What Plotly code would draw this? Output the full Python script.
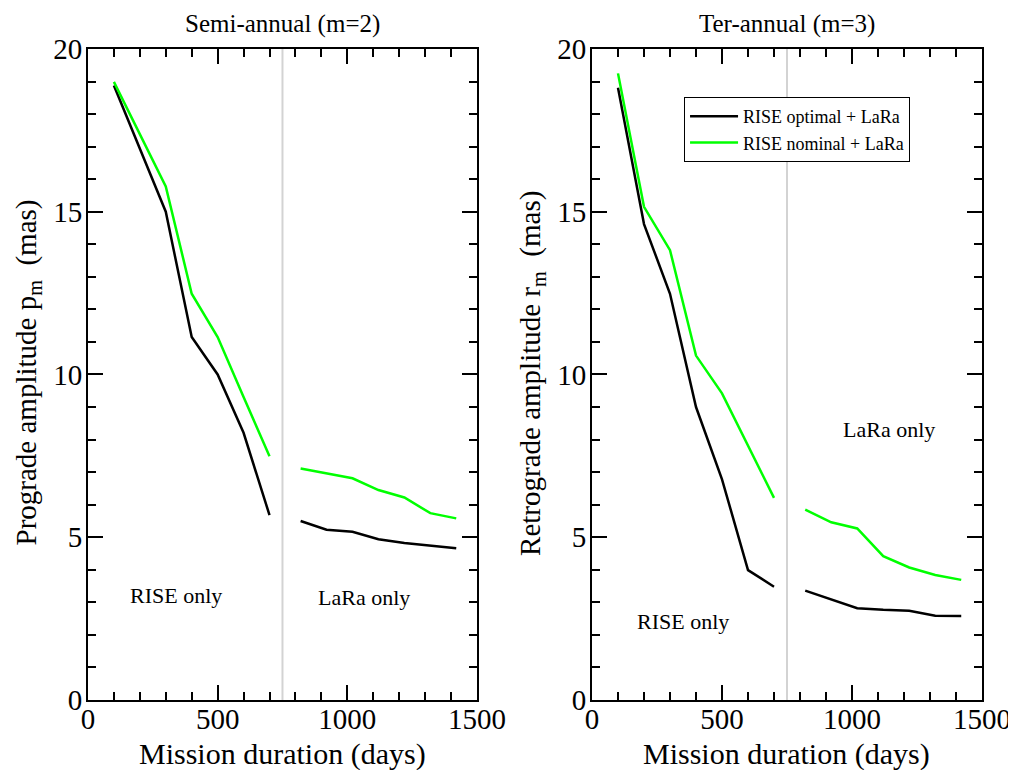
import plotly.graph_objects as go

# Durée de mission (jours)
DIAS_RISE = [100, 200, 300, 400, 500, 600, 700]
DIAS_LARA = [820, 920, 1020, 1120, 1220, 1320, 1420]

# Semi-annual (m=2), prograde amplitude (mas)
SEMI_OPT_RISE = [18.88, 16.95, 15.0, 11.15, 10.0, 8.21, 5.68]
SEMI_OPT_LARA = [5.50, 5.23, 5.17, 4.94, 4.82, 4.75, 4.66]
SEMI_NOM_RISE = [18.99, 17.4, 15.78, 12.48, 11.15, 9.31, 7.49]
SEMI_NOM_LARA = [7.11, 6.96, 6.81, 6.45, 6.22, 5.74, 5.58]

# Ter-annual (m=3), retrograde amplitude (mas)
TER_OPT_RISE = [18.81, 14.62, 12.48, 9.0, 6.78, 3.99, 3.48]
TER_OPT_LARA = [3.36, 3.09, 2.82, 2.77, 2.74, 2.59, 2.58]
TER_NOM_RISE = [19.25, 15.15, 13.82, 10.58, 9.42, 7.84, 6.21]
TER_NOM_LARA = [5.85, 5.46, 5.27, 4.42, 4.07, 3.84, 3.69]

FUENTE = "Liberation Serif"
NEGRO = "#000000"
VERDE = "#00ff00"

x_todo = DIAS_RISE + [None] + DIAS_LARA


def serie(rise, lara):
    return rise + [None] + lara


fig = go.Figure()

paneles = [
    ("x", "y", SEMI_OPT_RISE, SEMI_OPT_LARA, SEMI_NOM_RISE, SEMI_NOM_LARA, False),
    ("x2", "y2", TER_OPT_RISE, TER_OPT_LARA, TER_NOM_RISE, TER_NOM_LARA, True),
]
for xa, ya, opt_r, opt_l, nom_r, nom_l, leyenda in paneles:
    fig.add_trace(
        go.Scatter(
            x=x_todo,
            y=serie(opt_r, opt_l),
            mode="lines",
            name="RISE optimal + LaRa",
            line=dict(color=NEGRO, width=2.5),
            xaxis=xa,
            yaxis=ya,
            showlegend=leyenda,
            connectgaps=False,
        )
    )
    fig.add_trace(
        go.Scatter(
            x=x_todo,
            y=serie(nom_r, nom_l),
            mode="lines",
            name="RISE nominal + LaRa",
            line=dict(color=VERDE, width=2.5),
            xaxis=xa,
            yaxis=ya,
            showlegend=leyenda,
            connectgaps=False,
        )
    )

eje_x = dict(
    range=[0, 1500],
    tickvals=[0, 500, 1000, 1500],
    ticks="inside",
    ticklen=15,
    tickwidth=1.5,
    tickcolor="black",
    minor=dict(dtick=100, ticks="inside", ticklen=8, tickwidth=1.5, tickcolor="black"),
    showline=True,
    linecolor="black",
    linewidth=2,
    mirror="allticks",
    showgrid=False,
    zeroline=False,
    automargin=False,
    ticklabelstandoff=-8,
    tickfont=dict(family=FUENTE, size=29, color="black"),
)
eje_y = dict(
    range=[0, 20],
    tickvals=[0, 5, 10, 15, 20],
    ticks="inside",
    ticklen=15,
    tickwidth=1.5,
    tickcolor="black",
    minor=dict(dtick=1, ticks="inside", ticklen=8, tickwidth=1.5, tickcolor="black"),
    showline=True,
    linecolor="black",
    linewidth=2,
    mirror="allticks",
    showgrid=False,
    zeroline=False,
    automargin=False,
    ticklabelstandoff=-2,
    tickfont=dict(family=FUENTE, size=29, color="black"),
    domain=[0.1013, 0.9468],
)

fig.update_layout(
    width=1016,
    height=770,
    margin=dict(l=0, r=0, t=0, b=0),
    paper_bgcolor="white",
    plot_bgcolor="white",
    font=dict(family=FUENTE, color="black"),
    xaxis=dict(eje_x, domain=[0.0787, 0.4616], anchor="y"),
    yaxis=dict(eje_y, anchor="x"),
    xaxis2=dict(eje_x, domain=[0.5748, 0.9587], anchor="y2"),
    yaxis2=dict(eje_y, anchor="x2"),
    legend=dict(
        x=0.6654,
        y=0.8844,
        xanchor="left",
        yanchor="top",
        bgcolor="white",
        bordercolor="black",
        borderwidth=1,
        itemwidth=48,
        font=dict(family=FUENTE, size=18, color="black"),
    ),
)

# Línea gris de separación RISE / LaRa
for xa in ["x", "x2"]:
    fig.add_shape(
        type="line",
        xref=xa,
        yref=("y" if xa == "x" else "y2") + " domain",
        x0=750,
        x1=750,
        y0=0,
        y1=1,
        line=dict(color="#d3d3d3", width=2),
        layer="below",
    )

textos = [
    # (texto, xref, yref, x, y, tamaño, ángulo)
    ("Semi-annual (m=2)", "paper", "paper", 0.2697, 0.9792, 25, 0),
    ("Ter-annual (m=3)", "paper", "paper", 0.7667, 0.9792, 25, 0),
    ("Mission duration (days)", "paper", "paper", 0.2697, 0.0312, 30, 0),
    ("Mission duration (days)", "paper", "paper", 0.7667, 0.0312, 30, 0),
    ("Prograde amplitude p<sub>m</sub>  (mas)", "paper", "paper", 0.0192, 0.526, 29, -90),
    ("Retrograde amplitude r<sub>m</sub>  (mas)", "paper", "paper", 0.5157, 0.526, 29, -90),
    ("RISE only", "x", "y", 340, 3.2, 22, 0),
    ("LaRa only", "x", "y", 1064, 3.15, 22, 0),
    ("RISE only", "x2", "y2", 350, 2.4, 22, 0),
    ("LaRa only", "x2", "y2", 1142, 8.3, 22, 0),
]
for texto, xr, yr, xv, yv, tam, ang in textos:
    fig.add_annotation(
        text=texto,
        xref=xr,
        yref=yr,
        x=xv,
        y=yv,
        xanchor="center",
        yanchor="middle",
        showarrow=False,
        textangle=ang,
        font=dict(family=FUENTE, size=tam, color="black"),
    )

fig.write_html("out.html")
